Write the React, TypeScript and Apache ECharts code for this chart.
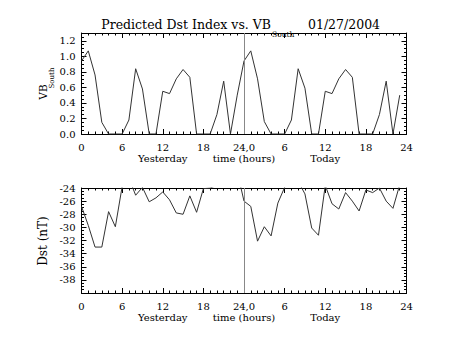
import React, { useEffect, useRef } from "react";
import * as echarts from "echarts";

const hours = [0, 1, 2, 3, 4, 5, 6, 7, 8, 9, 10, 11, 12, 13, 14, 15, 16, 17, 18, 19, 20, 21, 22, 23,
  24, 25, 26, 27, 28, 29, 30, 31, 32, 33, 34, 35, 36, 37, 38, 39, 40, 41, 42, 43, 44, 45, 46, 47];

const vbSouth = [0.94, 1.07, 0.76, 0.15, 0, 0, 0, 0.18, 0.84, 0.58, 0, 0, 0.55, 0.52, 0.71, 0.83, 0.73, 0, 0, 0, 0.25, 0.68, 0, 0.5,
  0.94, 1.07, 0.71, 0.16, 0, 0, 0, 0.18, 0.84, 0.59, 0, 0, 0.55, 0.52, 0.71, 0.83, 0.73, 0, 0, 0, 0.25, 0.68, 0, 0.5];

const dst = [-26.8, -29.7, -33.0, -33.0, -27.6, -29.9, -23.8, -22.5, -25.1, -23.9, -26.1, -25.5, -24.6, -25.8, -27.8, -28.0, -25.2, -27.7, -24.1, -24.0, -23.6, -23.2, -22.8, -21.5,
  -26.0, -26.8, -32.1, -29.9, -31.3, -26.3, -23.9, -22.5, -23.0, -24.9, -30.1, -31.2, -23.6, -26.4, -27.2, -24.7, -26.0, -27.5, -24.3, -24.7, -24.0, -26.0, -27.1, -23.5];

const hourTickLabels: Record<number, string> = { 0: "0", 6: "6", 12: "12", 18: "18", 24: "24,0", 30: "6", 36: "12", 42: "18", 48: "24" };
const dayLabels: Record<number, string> = { 12: "Yesterday", 24: "time (hours)", 36: "Today" };
const dividerHour = 24;

const SERIF = "'DejaVu Serif', 'Liberation Serif', serif";

export default function App() {
  const ref = useRef<HTMLDivElement>(null);
  useEffect(() => {
    if (!ref.current) return;
    const chart = echarts.init(ref.current, undefined, { renderer: "svg" });
    const grids = [
      { left: 81.5, right: 46.5, top: 33, height: 101 },
      { left: 81.5, right: 46.5, top: 188, height: 105 },
    ];
    const lineStyle = { color: "#000", width: 1 };
    const baseX = (gi: number) => ({
      type: "value",
      gridIndex: gi,
      min: 0,
      max: 48,
      interval: 6,
      position: "bottom",
      axisLine: { onZero: false, lineStyle },
      axisTick: { inside: true, length: 5, lineStyle },
      minorTick: { show: true, splitNumber: 6, length: 2.5, lineStyle },
      splitLine: { show: false },
      axisLabel: {
        margin: 8,
        color: "#000",
        fontFamily: SERIF,
        fontSize: 10,
        formatter: (v: number) => hourTickLabels[v] ?? "",
      },
    });
    const topX = (gi: number) => ({
      type: "value",
      gridIndex: gi,
      min: 0,
      max: 48,
      interval: 6,
      position: "top",
      axisLine: { onZero: false, lineStyle },
      axisTick: { inside: true, length: 5, lineStyle },
      minorTick: { show: true, splitNumber: 6, length: 2.5, lineStyle },
      splitLine: { show: false },
      axisLabel: { show: false },
    });
    const textX = (gi: number) => ({
      type: "value",
      gridIndex: gi,
      min: 0,
      max: 48,
      interval: 12,
      position: "bottom",
      offset: 11,
      axisLine: { show: false },
      axisTick: { show: false },
      splitLine: { show: false },
      axisLabel: {
        margin: 8,
        color: "#000",
        fontFamily: SERIF,
        fontSize: 10,
        formatter: (v: number) => dayLabels[v] ?? "",
      },
    });
    const yAx = (gi: number, min: number, max: number, interval: number, pos: string, labels: boolean, fmt?: (v: number) => string) => ({
      type: "value",
      gridIndex: gi,
      min,
      max,
      interval,
      position: pos,
      axisLine: { show: true, onZero: false, lineStyle },
      axisTick: { inside: true, length: 5, lineStyle },
      minorTick: { show: true, splitNumber: 4, length: 2.5, lineStyle },
      splitLine: { show: false },
      axisLabel: labels
        ? { show: true, margin: 6, color: "#000", fontFamily: SERIF, fontSize: 10, formatter: fmt }
        : { show: false },
    });
    const vbFmt = (v: number) => (Math.abs(v * 5 - Math.round(v * 5)) < 1e-6 ? v.toFixed(1) : "");
    const dstFmt = (v: number) => (v >= -38 && v <= -24 && Math.abs(v / 2 - Math.round(v / 2)) < 1e-6 ? String(v) : "");
    const markLine = {
      symbol: "none",
      silent: true,
      label: { show: false },
      lineStyle: { color: "#888", type: "solid", width: 1 },
      data: [{ xAxis: dividerHour }],
    };
    chart.setOption({
      animation: false,
      backgroundColor: "#fff",
      grid: grids,
      xAxis: [baseX(0), topX(0), textX(0), baseX(1), topX(1), textX(1)],
      yAxis: [
        yAx(0, 0, 1.3, 0.2, "left", true, vbFmt),
        yAx(0, 0, 1.3, 0.2, "right", false),
        yAx(1, -40, -24, 2, "left", true, dstFmt),
        yAx(1, -40, -24, 2, "right", false),
      ],
      series: [
        {
          type: "line",
          xAxisIndex: 0,
          yAxisIndex: 0,
          data: hours.map((h, i) => [h, vbSouth[i]]),
          showSymbol: false,
          lineStyle: { color: "#333", width: 1 },
          clip: true,
          markLine,
        },
        {
          type: "line",
          xAxisIndex: 3,
          yAxisIndex: 2,
          data: hours.map((h, i) => [h, dst[i]]),
          showSymbol: false,
          lineStyle: { color: "#333", width: 1 },
          clip: true,
          markLine,
        },
      ],
      graphic: [
        { type: "text", x: 271, y: 24, style: { text: "Predicted Dst Index vs. VB", font: `12.5px ${SERIF}`, fill: "#000", textAlign: "right", textVerticalAlign: "middle" } },
        { type: "text", x: 272, y: 34, style: { text: "South", font: `7.5px ${SERIF}`, fill: "#000", textAlign: "left", textVerticalAlign: "middle" } },
        { type: "text", x: 308, y: 24, style: { text: "01/27/2004", font: `12.5px ${SERIF}`, fill: "#000", textAlign: "left", textVerticalAlign: "middle" } },
        { type: "text", x: 43, y: 92, rotation: Math.PI / 2, style: { text: "VB", font: `10.5px ${SERIF}`, fill: "#000", textAlign: "center", textVerticalAlign: "middle" } },
        { type: "text", x: 52, y: 78, rotation: Math.PI / 2, style: { text: "South", font: `7px ${SERIF}`, fill: "#000", textAlign: "center", textVerticalAlign: "middle" } },
        { type: "text", x: 42.5, y: 241, rotation: Math.PI / 2, style: { text: "Dst (nT)", font: `12px ${SERIF}`, fill: "#000", textAlign: "center", textVerticalAlign: "middle" } },
      ],
    });
    return () => chart.dispose();
  }, []);
  return <div ref={ref} style={{ width: 453, height: 340, position: "absolute", left: 0, top: 0 }} />;
}
